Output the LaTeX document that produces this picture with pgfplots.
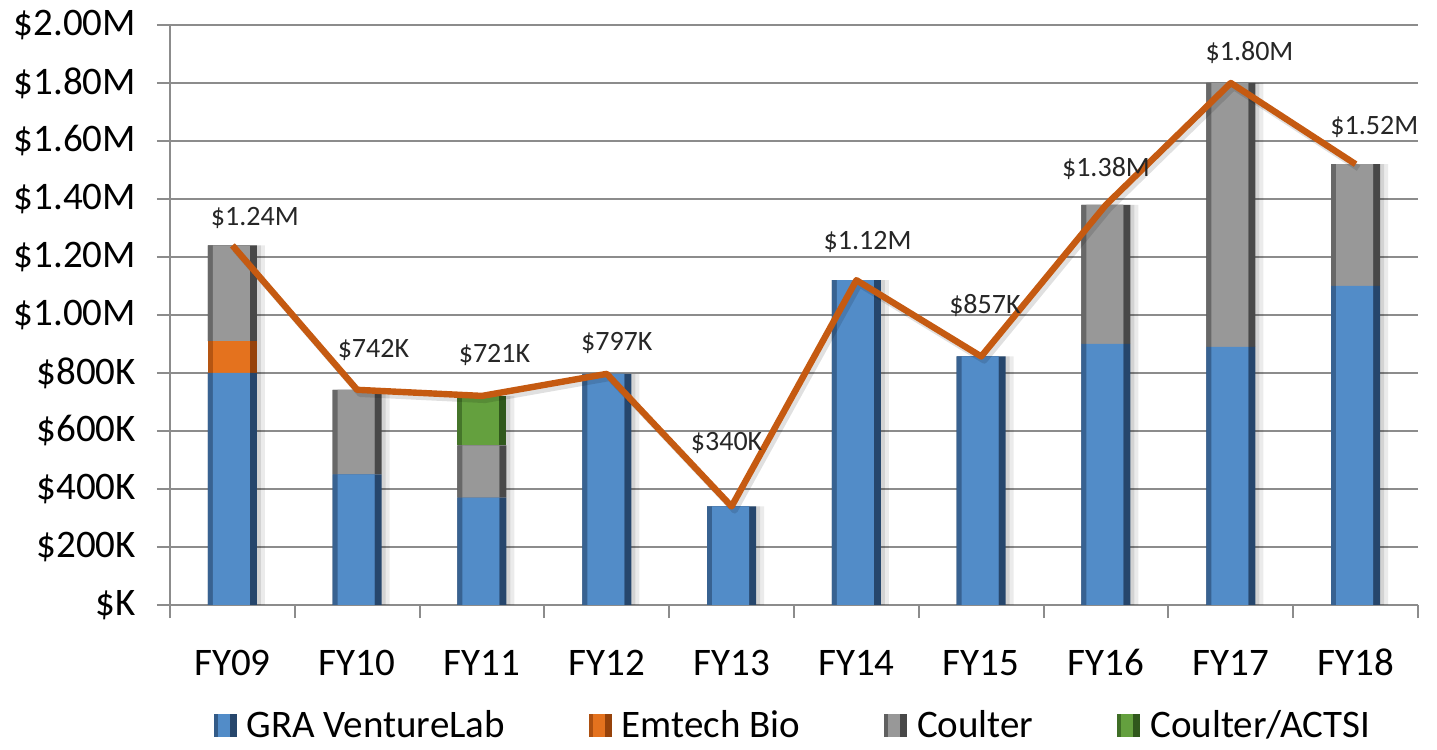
\documentclass[border=0pt]{standalone}
\usepackage{pgfplots}
\usepackage{pgfplotstable}
\pgfplotsset{compat=1.18}
\usepackage{fontspec}
\setmainfont{Carlito}

\definecolor{bmain}{RGB}{82,140,200}
\definecolor{bdark}{RGB}{38,70,108}
\definecolor{omain}{RGB}{228,114,30}
\definecolor{odark}{RGB}{150,66,10}
\definecolor{gmain}{RGB}{152,152,152}
\definecolor{gdark}{RGB}{72,72,72}
\definecolor{nmain}{RGB}{100,160,62}
\definecolor{ndark}{RGB}{48,88,28}
\definecolor{lineorange}{RGB}{197,90,17}
\definecolor{gridgray}{RGB}{140,140,140}

\pgfplotstableread{
x gra emtech coulter actsi
0 0.800 0.110 0.330 0.000
1 0.450 0.000 0.292 0.000
2 0.370 0.000 0.180 0.171
3 0.797 0.000 0.000 0.000
4 0.340 0.000 0.000 0.000
5 1.120 0.000 0.000 0.000
6 0.857 0.000 0.000 0.000
7 0.900 0.000 0.480 0.000
8 0.890 0.000 0.910 0.000
9 1.100 0.000 0.420 0.000
}\bars

\pgfplotstableread{
x total
0 1.240
1 0.742
2 0.721
3 0.797
4 0.340
5 1.120
6 0.857
7 1.380
8 1.800
9 1.520
}\totals

\pgfplotsset{
  base/.style={scale only axis, width=624pt, height=290pt,
    xmin=-0.5, xmax=9.5, ymin=0, ymax=2, clip=false},
  leg/.style 2 args={legend image code/.code={
    \fill[#1] (0pt,-5.5pt) rectangle (11pt,5.5pt);
    \fill[#2] (8pt,-5.5pt) rectangle (11pt,5.5pt);
    \fill[#2!70!#1] (0pt,-5.5pt) rectangle (1.5pt,5.5pt);}},
}

\begin{document}
\begin{tikzpicture}
\path[use as bounding box] (-85pt,-72.5pt) rectangle (633.5pt,302.5pt);

% layer 1: axes, grid, legend
\begin{axis}[base,
  axis x line*=bottom, axis y line*=left,
  axis line style={gridgray, line width=1pt},
  ymajorgrids, grid style={gridgray, line width=1pt},
  ytick={0,0.2,0.4,0.6,0.8,1,1.2,1.4,1.6,1.8,2},
  yticklabels={\$K,\$200K,\$400K,\$600K,\$800K,\$1.00M,\$1.20M,\$1.40M,\$1.60M,\$1.80M,\$2.00M},
  xtick={0,1,2,3,4,5,6,7,8,9},
  xticklabels={FY09,FY10,FY11,FY12,FY13,FY14,FY15,FY16,FY17,FY18},
  minor xtick={-0.5,0.5,1.5,2.5,3.5,4.5,5.5,6.5,7.5,8.5,9.5},
  tick align=outside,
  major tick length=6.5pt, minor tick length=6.5pt,
  major x tick style={draw=none},
  minor x tick style={gridgray, line width=1pt},
  ytick style={gridgray, line width=1pt},
  tick label style={font=\fontsize{19.5}{22}\selectfont, text=black},
  yticklabel style={xshift=-7pt},
  xticklabel style={text height=13pt, text depth=0pt, yshift=-12pt},
  legend columns=4,
  legend cell align=left,
  legend style={at={(axis description cs:0.5,0)}, anchor=center, yshift=-60pt,
    draw=none, fill=none, font=\fontsize{19.5}{21}\selectfont,
    inner sep=1pt,
    nodes={inner sep=2pt},
    /tikz/every even column/.append style={column sep=40pt},
    /tikz/every odd column/.append style={column sep=3pt}},
]
\addlegendimage{leg={bmain}{bdark}}
\addlegendentry{GRA VentureLab}
\addlegendimage{leg={omain}{odark}}
\addlegendentry{Emtech Bio}
\addlegendimage{leg={gmain}{gdark}}
\addlegendentry{Coulter}
\addlegendimage{leg={nmain}{ndark}}
\addlegendentry{Coulter/ACTSI}
\end{axis}

% layer 2: soft shadow
\begin{axis}[base, hide axis, ybar, bar width=24.5pt]
\addplot[fill=black, fill opacity=0.08, draw=none, bar shift=4pt] table[x=x, y=total] {\totals};
\addplot[fill=black, fill opacity=0.10, draw=none, bar shift=2pt] table[x=x, y=total] {\totals};
\end{axis}

% layer 3: dark bar bodies
\begin{axis}[base, hide axis, ybar stacked, bar width=24.5pt]
\addplot[fill=bdark, draw=none] table[x=x, y=gra] {\bars};
\addplot[fill=odark, draw=none] table[x=x, y=emtech] {\bars};
\addplot[fill=gdark, draw=none] table[x=x, y=coulter] {\bars};
\addplot[fill=ndark, draw=none] table[x=x, y=actsi] {\bars};
\end{axis}

% layer 4: left bevel tone
\begin{axis}[base, hide axis, ybar stacked, bar width=21pt, bar shift=-1.75pt]
\addplot[fill=bdark!60!bmain, draw=none] table[x=x, y=gra] {\bars};
\addplot[fill=odark!60!omain, draw=none] table[x=x, y=emtech] {\bars};
\addplot[fill=gdark!60!gmain, draw=none] table[x=x, y=coulter] {\bars};
\addplot[fill=ndark!60!nmain, draw=none] table[x=x, y=actsi] {\bars};
\end{axis}

% layer 5: bar faces
\begin{axis}[base, hide axis, ybar stacked, bar width=18.5pt, bar shift=-0.5pt]
\addplot[fill=bmain, draw=none] table[x=x, y=gra] {\bars};
\addplot[fill=omain, draw=none] table[x=x, y=emtech] {\bars};
\addplot[fill=gmain, draw=none] table[x=x, y=coulter] {\bars};
\addplot[fill=nmain, draw=none] table[x=x, y=actsi] {\bars};
\end{axis}

% layer 6: labels and total line
\begin{axis}[base, hide axis]
\addplot[draw=none, mark=none, nodes near coords, point meta=explicit symbolic,
  every node near coord/.append style={anchor=center, font=\fontsize{14}{16}\selectfont, text=black!85}]
  coordinates {
  (0.18,1.333) [\$1.24M]
  (1.13,0.880) [\$742K]
  (2.10,0.863) [\$721K]
  (3.08,0.904) [\$797K]
  (3.96,0.557) [\$340K]
  (5.09,1.251) [\$1.12M]
  (6.03,1.034) [\$857K]
  (7.00,1.505) [\$1.38M]
  (8.15,1.904) [\$1.80M]
  (9.15,1.649) [\$1.52M]
  };
\addplot[black, opacity=0.12, line width=3.2pt, line join=round, mark=none, shift={(1.5pt,-2pt)}] table[x=x, y=total] {\totals};
\addplot[lineorange, line width=3.2pt, line join=round, mark=none] table[x=x, y=total] {\totals};
\end{axis}
\end{tikzpicture}
\end{document}
